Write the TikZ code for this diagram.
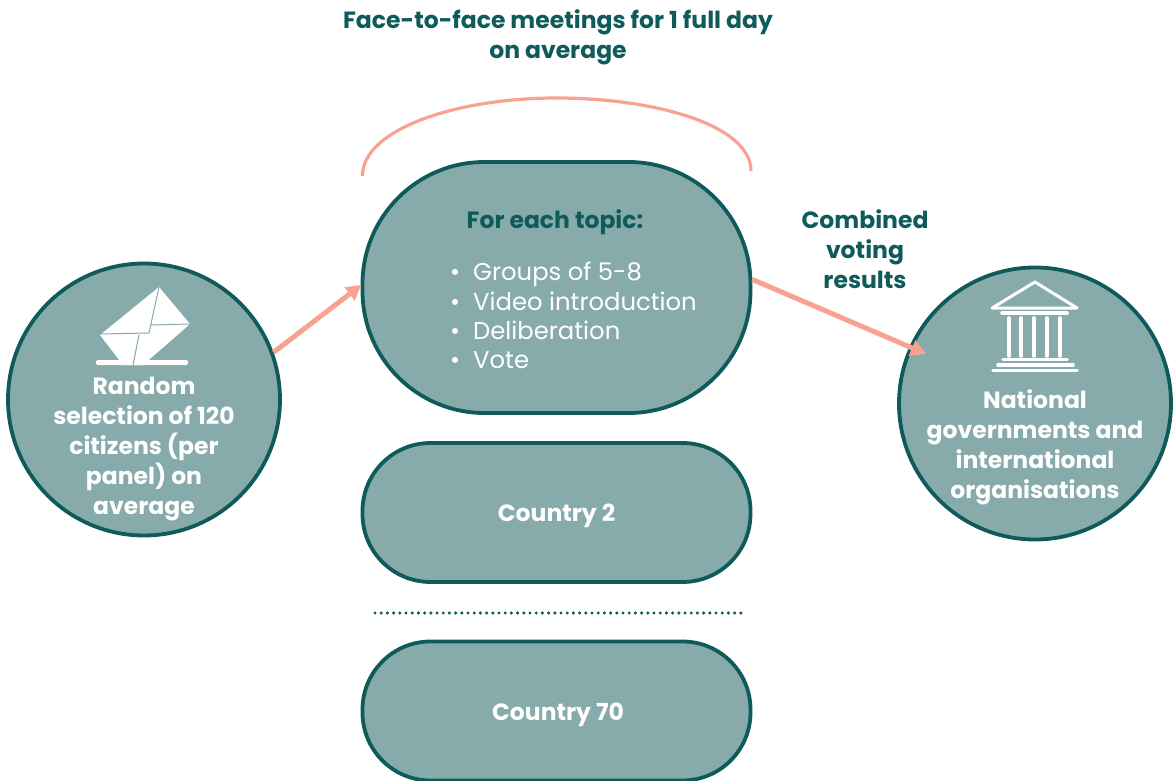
\documentclass[tikz,border=0pt]{standalone}
\usepackage{fontspec}
\setmainfont{Poppins}
\usetikzlibrary{arrows.meta,calc}
\definecolor{tealfill}{HTML}{87ABAA}
\definecolor{tealdark}{HTML}{0F5A5A}
\definecolor{salmon}{HTML}{F8A292}
\tikzset{
 circlebox/.style={circle,draw=tealdark,fill=tealfill,line width=3.8pt,minimum size=272pt,inner sep=0pt},
 pillbox/.style={rectangle,draw=tealdark,fill=tealfill,line width=3.8pt,minimum width=388pt,inner sep=0pt},
 heading/.style={text=tealdark,font=\fontsize{23.5}{30}\selectfont\bfseries,align=center,inner sep=0pt},
 whitehead/.style={text=white,font=\fontsize{23.5}{30}\selectfont\bfseries,align=center,inner sep=0pt},
 bulletline/.style={text=white,font=\fontsize{24.3}{29.3}\selectfont,align=left,inner sep=0pt,anchor=west},
 flowarrow/.style={draw=salmon,line width=5pt,-{Triangle[length=15pt,width=16pt]},shorten >=-1pt},
 arcline/.style={draw=salmon,line width=3.2pt},
 iconline/.style={draw=white,line width=3.6pt,line cap=round},
 envline/.style={draw=tealfill,line width=1pt},
}
\begin{document}
\begin{tikzpicture}[x=1pt,y=-1pt]
\useasboundingbox (0,0) rectangle (1176,781);
% nodes
\node[circlebox] (sel) at (144,399.5) {};
\node[circlebox] (gov) at (1035,403.5) {};
\node[pillbox,minimum height=251pt,rounded corners=122pt] (main) at (556.5,287.5) {};
\node[pillbox,minimum height=139pt,rounded corners=68pt] (c2) at (556.5,512.5) {};
\node[pillbox,minimum height=139pt,rounded corners=68pt] (c70) at (556.5,711) {};
% texts
\node[heading] (title) at (558,37) {Face-to-face meetings for 1 full day\\on average};
\node[heading] (topic) at (555,222) {For each topic:};
\node[bulletline] (list) at (450,315.5) {•\hspace{13pt}Groups of 5-8\\•\hspace{13pt}Video introduction\\•\hspace{13pt}Deliberation\\•\hspace{13pt}Vote};
\node[whitehead] (c2t) at (556.5,516) {Country 2};
\node[whitehead] (c70t) at (558,715) {Country 70};
\node[whitehead] (selt) at (144,449) {Random\\selection of 120\\citizens (per\\panel) on\\average};
\node[whitehead] (govt) at (1035,447) {National\\governments and\\international\\organisations};
\node[heading] (vote) at (865,249.5) {Combined\\voting\\results};
% arc
\coordinate (arcL) at (362.5,176);
\coordinate (arcR) at (751,171);
\draw[arcline] (arcL) .. controls (362,130) and (455,98) .. (556,98) .. controls (655,98) and (751,125) .. (arcR);
% arrows
\coordinate (arrowS) at (sel.20.8);
\coordinate (arrowM) at (main.west);
\coordinate (arrowO) at (main.east);
\coordinate (arrowG) at ($(gov.center)+(-110,-50)$);
\draw[flowarrow] (arrowS) -- ($(arrowM)+(0,-2)$);
\draw[flowarrow] ($(arrowO)+(0,-8)$) -- (arrowG);
% dotted line
\coordinate (dotL) at (375,613);
\coordinate (dotR) at (741,613);
\draw[tealdark,line width=3.4pt,line cap=round,dash pattern=on 0pt off 6.2pt] (dotL) -- (dotR);
% envelope icon
\fill[white] (159,287) -- (190,324) -- (143,365) -- (123,365) -- (100,335) -- cycle;
\fill[white,rounded corners=1.5pt] (96,360) rectangle (188,365);
\draw[envline] (100,334) -- (149,333) -- (159,287);
\draw[envline] (151,325) -- (190,324);
\draw[envline] (139,335) -- (133,365);
% temple icon
\draw[iconline,line join=round,line width=3pt] (992,308) -- (1035,282) -- (1077,308) -- cycle;
\draw[iconline] (1002,313) -- (1067,313);
\foreach \x in {1009,1021,1034,1047,1060}{\draw[iconline] (\x,318) -- (\x,356);}
\draw[iconline] (1003,359.5) -- (1067,359.5);
\draw[iconline] (998,365) -- (1073,365);
\draw[iconline] (993,370.5) -- (1077,370.5);
\end{tikzpicture}
\end{document}
